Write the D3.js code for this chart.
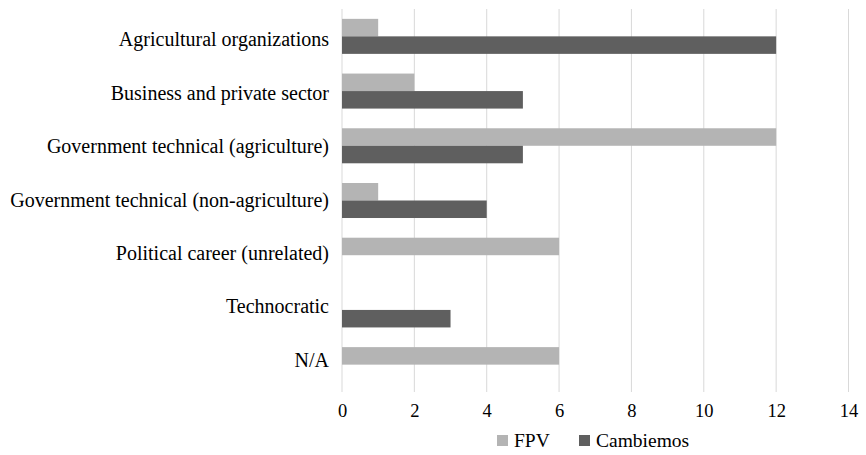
<!DOCTYPE html>
<html>
<head>
<meta charset="utf-8">
<script src="https://cdn.jsdelivr.net/npm/d3@7"></script>
<style>
  body { margin: 0; background: #fff; }
</style>
</head>
<body>
<div class="chart"></div>
<script>
// data
const categories = [
  'Agricultural organizations',
  'Business and private sector',
  'Government technical (agriculture)',
  'Government technical (non-agriculture)',
  'Political career (unrelated)',
  'Technocratic',
  'N/A'
];
const fpv = [1, 2, 12, 1, 6, 0, 6];
const cambiemos = [12, 5, 5, 4, 0, 3, 0];
const seriesNames = ['FPV', 'Cambiemos'];
const xTicks = [0, 2, 4, 6, 8, 10, 12, 14];

const colors = {FPV: '#b4b4b4', Cambiemos: '#5f5f5f'};
const FONT = '"Liberation Serif", "Times New Roman", serif';
const W = 866, H = 455;
const margin = {top: 9, left: 342, right: 18, bottom: 63};
const height = H - margin.top - margin.bottom;

const data = categories.map((c, i) => ({cat: c, FPV: fpv[i], Cambiemos: cambiemos[i]}));

let root = d3.select('.chart')
  .append('svg')
  .attr('width', W)
  .attr('height', H)
  .style('font-family', FONT);

let svg = root.append('g')
  .attr('transform', `translate(${margin.left},${margin.top})`);

let xScale = d3.scaleLinear()
  .domain([0, 14])
  .range([0, 506.5]);

let yScale = d3.scaleBand()
  .domain(categories)
  .range([0, height])
  .paddingInner(0.36)
  .paddingOuter(0.18);

let inner = d3.scaleBand()
  .domain(seriesNames)
  .range([0, yScale.bandwidth()]);

// category labels sit on a slightly tighter spacing than the bars (as in the original)
let labelScale = d3.scalePoint()
  .domain(categories)
  .range([30.5, 351]);

// vertical gridlines
svg.append('g')
  .selectAll('line')
  .data(xTicks)
  .join('line')
  .attr('x1', d => xScale(d))
  .attr('x2', d => xScale(d))
  .attr('y1', 0)
  .attr('y2', height)
  .attr('stroke', '#d9d9d9')
  .attr('stroke-width', 1);

// x axis labels
let xAxis = d3.axisBottom(xScale).tickValues(xTicks).tickSize(0).tickPadding(12);
svg.append('g')
  .attr('transform', `translate(0,${height})`)
  .call(xAxis)
  .attr('font-family', FONT)
  .attr('font-size', 18.5)
  .call(g => g.select('.domain').remove())
  .selectAll('text')
  .attr('fill', '#000');

// y axis labels
let yAxis = d3.axisLeft(labelScale).tickSize(0).tickPadding(13);
svg.append('g')
  .call(yAxis)
  .attr('font-family', FONT)
  .attr('font-size', 20)
  .call(g => g.select('.domain').remove())
  .selectAll('text')
  .attr('fill', '#000');

// bars
let groups = svg.append('g')
  .selectAll('g')
  .data(data)
  .join('g')
  .attr('transform', d => `translate(0,${yScale(d.cat)})`);

groups.selectAll('rect')
  .data(d => seriesNames.map(k => ({key: k, value: d[k]})).filter(e => e.value > 0))
  .join('rect')
  .attr('x', xScale(0))
  .attr('y', d => inner(d.key))
  .attr('width', d => xScale(d.value) - xScale(0))
  .attr('height', inner.bandwidth())
  .attr('fill', d => colors[d.key]);

// legend
const legendItems = [
  {key: 'FPV', x: 155},
  {key: 'Cambiemos', x: 237}
];
let legend = svg.append('g')
  .attr('transform', `translate(0,${height + 48})`);
legend.selectAll('rect')
  .data(legendItems)
  .join('rect')
  .attr('x', d => d.x)
  .attr('y', -5)
  .attr('width', 11)
  .attr('height', 11)
  .attr('fill', d => colors[d.key]);
legend.selectAll('text')
  .data(legendItems)
  .join('text')
  .attr('x', d => d.x + 17)
  .attr('y', 0)
  .attr('dy', '0.35em')
  .attr('font-size', 19.5)
  .attr('fill', '#000')
  .text(d => d.key);
</script>
</body>
</html>
